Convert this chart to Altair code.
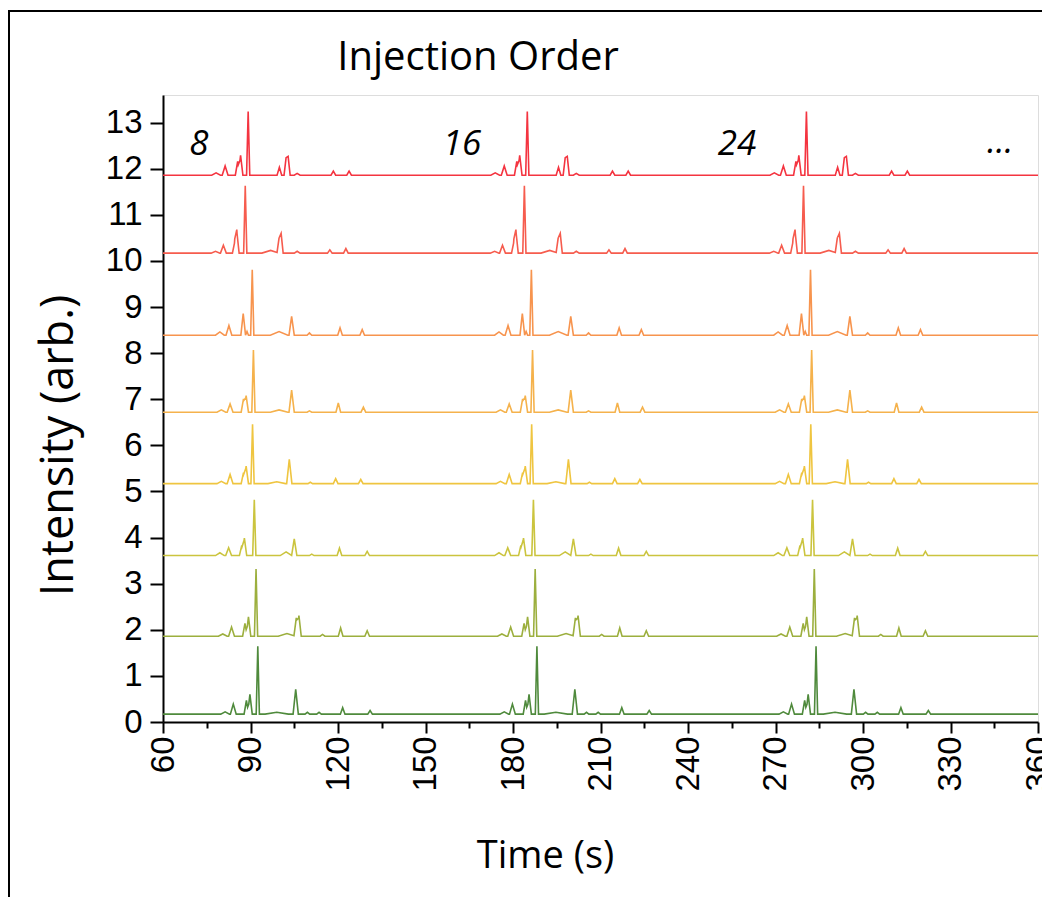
import altair as alt
import pandas as pd

# ---------------- data ----------------
TRACE_NAMES = ["trace1", "trace2", "trace3", "trace4", "trace5", "trace6", "trace7", "trace8"]
BASELINES = [0.17, 1.86, 3.61, 5.17, 6.72, 8.39, 10.17, 11.86]
COLORS = ["#4f8a3c", "#9caf3e", "#cbc43e", "#efc540", "#f5b24c", "#f7944e", "#f65c4e", "#f43440"]
CYCLE_SHIFTS = [0.0, 95.7, 191.4]  # three injections shown per trace

# peak tables for the first injection of each trace: (time s, height, half width s)
PEAKS_1 = [(81.3, 0.05, 1.5), (84.1, 0.22, 1.0), (88.6, 0.30, 0.8), (89.8, 0.43, 0.8),
           (92.5, 1.47, 0.55), (99.0, 0.04, 4.0), (105.5, 0.54, 0.9), (109.5, 0.04, 0.8),
           (113.5, 0.04, 0.8), (121.6, 0.14, 0.8), (131.0, 0.08, 0.8)]
PEAKS_2 = [(80.5, 0.05, 1.5), (83.5, 0.20, 1.0), (88.1, 0.28, 0.8), (89.3, 0.42, 0.8),
           (91.9, 1.46, 0.55), (102.5, 0.06, 3.0), (105.7, 0.40, 0.8), (106.6, 0.45, 0.8),
           (114.7, 0.04, 0.8), (120.9, 0.18, 0.8), (130.0, 0.12, 0.8)]
PEAKS_3 = [(79.5, 0.06, 1.5), (82.5, 0.17, 1.0), (87.0, 0.22, 0.8), (87.9, 0.38, 0.8),
           (91.3, 1.21, 0.55), (102.2, 0.08, 2.0), (105.0, 0.36, 0.9), (111.0, 0.03, 0.8),
           (120.5, 0.16, 0.8), (130.0, 0.09, 0.8)]
PEAKS_4 = [(80.0, 0.05, 1.5), (83.0, 0.20, 1.0), (87.6, 0.24, 0.8), (88.5, 0.38, 0.8),
           (90.7, 1.29, 0.55), (99.0, 0.04, 3.0), (103.3, 0.53, 0.9), (110.5, 0.03, 0.8),
           (119.2, 0.11, 0.8), (127.8, 0.09, 0.8)]
PEAKS_5 = [(80.0, 0.05, 1.5), (83.0, 0.18, 1.0), (87.6, 0.29, 0.8), (88.5, 0.36, 0.8),
           (91.0, 1.35, 0.55), (99.8, 0.05, 3.0), (104.1, 0.48, 0.9), (110.2, 0.03, 0.8),
           (120.1, 0.20, 0.8), (128.7, 0.11, 0.8)]
PEAKS_6 = [(79.5, 0.07, 1.5), (82.6, 0.21, 1.0), (87.5, 0.47, 0.8), (88.8, 0.08, 0.5),
           (90.6, 1.42, 0.55), (99.8, 0.08, 3.0), (104.1, 0.41, 0.9), (110.2, 0.05, 0.8),
           (120.7, 0.16, 0.8), (128.3, 0.12, 0.8)]
PEAKS_7 = [(78.0, 0.04, 1.5), (80.7, 0.17, 1.0), (84.6, 0.25, 0.8), (85.3, 0.48, 0.8),
           (88.2, 1.46, 0.55), (96.9, 0.06, 3.0), (99.8, 0.33, 0.7), (100.5, 0.43, 0.7),
           (106.0, 0.04, 1.0), (117.2, 0.07, 0.8), (122.7, 0.10, 0.8)]
PEAKS_8 = [(78.2, 0.05, 1.5), (81.3, 0.20, 1.0), (85.6, 0.30, 0.8), (86.6, 0.43, 0.8),
           (89.2, 1.38, 0.55), (99.9, 0.17, 0.8), (102.2, 0.38, 0.7), (102.9, 0.41, 0.7),
           (106.0, 0.04, 1.0), (118.4, 0.09, 0.8), (123.8, 0.09, 0.8)]
PEAK_TABLES = [PEAKS_1, PEAKS_2, PEAKS_3, PEAKS_4, PEAKS_5, PEAKS_6, PEAKS_7, PEAKS_8]

# injection-order annotations
LABEL_TEXT = ["8", "16", "24", "..."]
LABEL_TIME = [72.3, 162.5, 256.8, 347.0]
LABEL_Y = [12.3, 12.3, 12.3, 12.35]

# chart heading, placed in data coordinates above the traces
TITLE_TEXT = ["Injection Order"]
TITLE_TIME = [168.0]
TITLE_Y = [14.14]

X_START, X_END = 60.0, 360.0

# ---------------- build polylines from the peak tables ----------------
rows = []
for name, base, peaks in zip(TRACE_NAMES, BASELINES, PEAK_TABLES):
    allp = [(t + s, h, w) for s in CYCLE_SHIFTS for (t, h, w) in peaks]
    knots = {X_START, X_END}
    for t, h, w in allp:
        for d in (-w, 0.0, w):
            knots.add(round(t + d, 4))
    for k in sorted(knots):
        val = base + sum(h * max(0.0, 1 - abs(k - t) / w) for t, h, w in allp)
        rows.append({"trace": name, "time": k, "intensity": val})
df = pd.DataFrame(rows)
labels_df = pd.DataFrame({"text": LABEL_TEXT, "time": LABEL_TIME, "intensity": LABEL_Y})
title_df = pd.DataFrame({"text": TITLE_TEXT, "time": TITLE_TIME, "intensity": TITLE_Y})

W, H = 875, 627
PAD = {"left": 155, "top": 87, "right": 4, "bottom": 175}

xscale = alt.Scale(domain=[60, 360], nice=False, zero=False)
yscale = alt.Scale(domain=[0, 13.6], nice=False, zero=False)

x_axis = alt.Axis(
    values=list(range(60, 361, 15)),
    labelExpr="datum.value % 30 === 0 ? datum.label : ''",
    labelAngle=270, labelAlign="right", labelBaseline="middle",
    labelFont="Liberation Sans", labelFontSize=33, labelColor="black", labelPadding=3,
    tickSize={"condition": {"test": "datum.value % 30 !== 0", "value": 6}, "value": 11},
    tickColor="black", tickWidth=2, domainColor="black", domainWidth=2, grid=False,
    title="Time (s)", titleFont="Open Sans", titleFontSize=38, titleFontWeight="normal",
    titleColor="black", titleX=382, titleY=115, titleBaseline="top", titleAlign="center",
    labelOverlap=False, labelFlush=False,
)
y_axis = alt.Axis(
    values=[i * 0.5 for i in range(28)],
    labelExpr="datum.value % 1 === 0 ? datum.label : ''",
    labelFont="Liberation Sans", labelFontSize=33, labelColor="black", labelPadding=8,
    tickSize={"condition": {"test": "datum.value % 1 !== 0", "value": 7}, "value": 13},
    tickColor="black", tickWidth=2, domainColor="black", domainWidth=2, grid=False,
    title="Intensity (arb.)", titleFont="Open Sans", titleFontSize=45, titleFontWeight="normal",
    titleColor="black", titleAngle=270, titleX=-127, titleY=350, titleBaseline="top",
    titleAlign="center", labelOverlap=False, labelFlush=False,
)

lines = alt.Chart(df).mark_line(strokeWidth=1.6).encode(
    x=alt.X("time:Q", scale=xscale, axis=x_axis),
    y=alt.Y("intensity:Q", scale=yscale, axis=y_axis),
    color=alt.Color("trace:N", scale=alt.Scale(domain=TRACE_NAMES, range=COLORS), legend=None),
    detail="trace:N",
)

texts = alt.Chart(labels_df).mark_text(
    font="Open Sans", fontSize=35, fontStyle="italic", color="black",
    align="center", baseline="alphabetic",
).encode(
    x=alt.X("time:Q", scale=xscale),
    y=alt.Y("intensity:Q", scale=yscale),
    text="text:N",
)

heading = alt.Chart(title_df).mark_text(
    font="Open Sans", fontSize=40, color="black", align="center", baseline="alphabetic",
).encode(
    x=alt.X("time:Q", scale=xscale),
    y=alt.Y("intensity:Q", scale=yscale),
    text="text:N",
)

# outer frame of the figure (left and top edges)
frame_left = alt.Chart(title_df).mark_rule(color="black", strokeWidth=2).encode(
    x=alt.value(-154), y=alt.value(-84), y2=alt.value(H + PAD["bottom"])
)
frame_top = alt.Chart(title_df).mark_rule(color="black", strokeWidth=2).encode(
    x=alt.value(-155), x2=alt.value(W + PAD["right"]), y=alt.value(-84)
)

chart = alt.layer(lines, texts, heading, frame_left, frame_top).properties(
    width=W, height=H,
    autosize=alt.AutoSizeParams(type="none"),
    padding=PAD,
).configure_view(stroke=None).configure(background="white")

chart.save("out.html", embed_options={"renderer": "svg", "actions": False})
